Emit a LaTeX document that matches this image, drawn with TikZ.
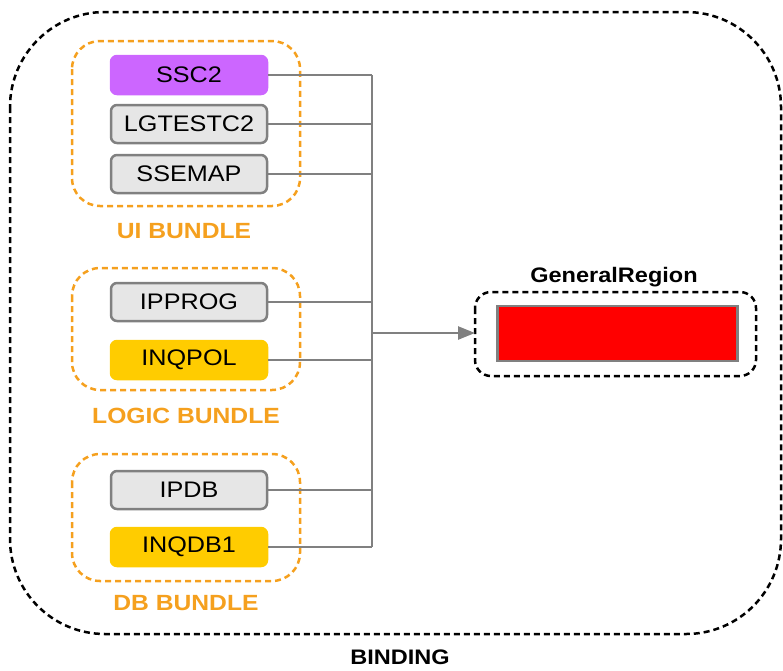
\documentclass[tikz,border=0pt]{standalone}
\usepackage{fontspec}
\setmainfont[FakeStretch=1.12]{Liberation Sans}
\usetikzlibrary{arrows.meta,calc}
\definecolor{bundleorange}{RGB}{245,160,30}
\definecolor{linegray}{RGB}{128,128,128}
\definecolor{boxgray}{RGB}{230,230,230}
\definecolor{ssccol}{RGB}{204,102,255}
\definecolor{inqcol}{RGB}{255,204,0}
\begin{document}
\begin{tikzpicture}[x=1pt,y=-1pt,
  nodetext/.style={font=\fontsize{22.5}{26}\selectfont},
  appbox/.style={nodetext, rounded corners=6pt, minimum width=156pt, minimum height=38pt, inner sep=0pt, line width=2.5pt},
  graybox/.style={appbox, draw=linegray, fill=boxgray},
  purplebox/.style={appbox, draw=ssccol, fill=ssccol},
  yellowbox/.style={appbox, draw=inqcol, fill=inqcol},
  bundle/.style={draw=bundleorange, dash pattern=on 6pt off 4pt, line width=2.5pt, rounded corners=28pt},
  bundlelabel/.style={font=\bfseries\fontsize{22}{26}\selectfont, text=bundleorange},
  outerdash/.style={draw=black, dash pattern=on 6pt off 4pt, line width=2.5pt},
  wire/.style={draw=linegray, line width=2.5pt},
  title/.style={font=\bfseries\fontsize{21}{25}\selectfont}
]
\useasboundingbox (0,0) rectangle (783,670);
% outer binding
\draw[outerdash, rounded corners=95pt] (10,12) rectangle (781,634);
\node[title, inner sep=1pt] (binding) at (400,657) {BINDING};
% bundles
\draw[bundle] (72,41) rectangle (300,206);
\node[bundlelabel] (uil) at (184,231) {UI BUNDLE};
\draw[bundle] (72,268) rectangle (300,390);
\node[bundlelabel] (logl) at (186,416) {LOGIC BUNDLE};
\draw[bundle] (72,454) rectangle (300,581);
\node[bundlelabel] (dbl) at (186,603) {DB BUNDLE};
% app nodes
\node[purplebox] (ssc2) at (189,75) {SSC2};
\node[graybox] (lgt) at (189,124) {LGTESTC2};
\node[graybox] (ssemap) at (189,174) {SSEMAP};
\node[graybox] (ipprog) at (189,302) {IPPROG};
\node[yellowbox] (inqpol) at (189,360) {INQPOL};
\node[graybox] (ipdb) at (189,490) {IPDB};
\node[yellowbox] (inqdb1) at (189,547) {INQDB1};
% general region
\node[title] (grl) at (614,277) {GeneralRegion};
\draw[outerdash, rounded corners=16pt] (475,292) rectangle (756,376);
\node[draw=linegray, fill=red, line width=2.5pt, minimum width=240pt, minimum height=55pt, inner sep=0pt] (red) at (617.5,333.5) {};
\coordinate (grw) at (475,333);
% bus
\coordinate (bt) at (372,75);
\coordinate (bb) at (372,547);
\coordinate (bm) at (372,333);
\draw[wire] (bt) -- (bb);
\foreach \n in {ssc2,lgt,ssemap,ipprog,inqpol,ipdb,inqdb1}
  \draw[wire] (\n.east) -- (\n.east -| bt);
\draw[wire, -{Triangle[length=17pt,width=13pt]}] (bm) -- (grw);
\end{tikzpicture}
\end{document}
